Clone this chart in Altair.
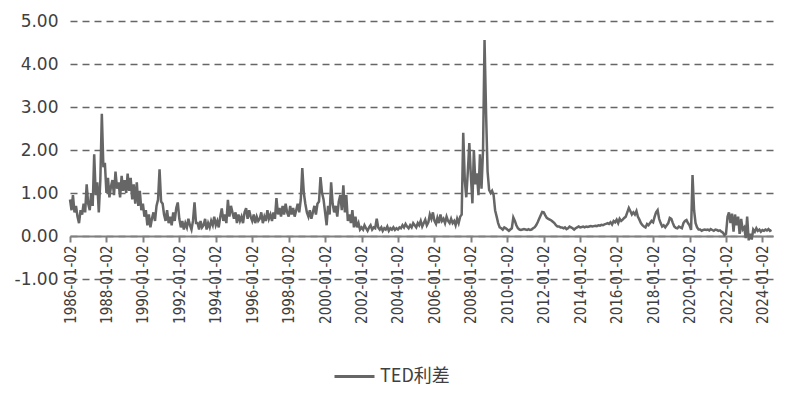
import altair as alt
import pandas as pd

# TED spread, monthly readings (approximate)
ted_1986_1989 = [
    0.85, 0.60, 0.95, 0.55, 0.70, 0.45, 0.30, 0.60, 0.50, 0.75, 0.55, 1.20,
    0.75, 0.60, 1.00, 0.70, 1.90, 0.95, 1.25, 0.55, 1.30, 2.84, 1.60, 1.70,
    1.00, 1.35, 0.90, 1.15, 1.30, 0.95, 1.50, 1.10, 1.25, 0.90, 1.40, 1.05,
    1.30, 1.00, 1.45, 1.05, 1.35, 0.85, 1.20, 0.75, 1.25, 0.70, 1.05, 0.60,
]
ted_1990_1999 = [
    0.75, 0.45, 0.60, 0.25, 0.50, 0.20, 0.40, 0.55, 0.35, 0.70, 0.85, 1.55,
    0.80, 0.75, 0.50, 0.35, 0.60, 0.30, 0.45, 0.25, 0.55, 0.35, 0.65, 0.78,
    0.40, 0.20, 0.35, 0.15, 0.30, 0.20, 0.40, 0.25, 0.15, 0.35, 0.78, 0.30,
    0.30, 0.15, 0.35, 0.20, 0.25, 0.40, 0.15, 0.30, 0.20, 0.35, 0.25, 0.45,
    0.25, 0.35, 0.20, 0.45, 0.64, 0.35, 0.50, 0.30, 0.84, 0.45, 0.70, 0.55,
    0.40, 0.55, 0.30, 0.50, 0.35, 0.45, 0.30, 0.55, 0.65, 0.40, 0.60, 0.45,
    0.35, 0.50, 0.30, 0.45, 0.35, 0.40, 0.55, 0.30, 0.45, 0.35, 0.60, 0.40,
    0.50, 0.35, 0.55, 0.40, 0.88, 0.50, 0.65, 0.45, 0.70, 0.50, 0.75, 0.55,
    0.45, 0.70, 0.50, 0.65, 0.45, 0.60, 0.75, 0.55, 0.85, 1.58, 1.00, 0.75,
    0.55, 0.45, 0.60, 0.40, 0.55, 0.70, 0.50, 0.75, 0.80, 1.37, 1.00, 0.85,
]
ted_2000_2009 = [
    0.55, 0.25, 0.70, 0.50, 1.25, 0.75, 0.55, 0.70, 0.45, 0.80, 0.95, 0.60,
    1.18, 0.55, 0.95, 0.35, 0.50, 0.30, 0.60, 0.20, 0.45, 0.20, 0.30, 0.15,
    0.20, 0.15, 0.25, 0.18, 0.12, 0.20, 0.25, 0.15, 0.20, 0.18, 0.40, 0.20,
    0.15, 0.20, 0.12, 0.18, 0.15, 0.22, 0.12, 0.18, 0.15, 0.20, 0.14, 0.18,
    0.15, 0.20, 0.18, 0.25, 0.20, 0.28, 0.22, 0.18, 0.25, 0.20, 0.30, 0.25,
    0.20, 0.30, 0.25, 0.35, 0.22, 0.30, 0.38, 0.25, 0.32, 0.50, 0.40, 0.55,
    0.35, 0.28, 0.42, 0.30, 0.50, 0.35, 0.40, 0.30, 0.45, 0.35, 0.30, 0.40,
    0.30, 0.35, 0.25, 0.40, 0.30, 0.45, 0.50, 2.40, 1.30, 0.90, 1.50, 2.16,
    1.40, 0.76, 2.00, 1.20, 1.46, 0.95, 1.90, 1.10, 2.00, 4.56, 2.85, 1.50,
    1.07, 1.00, 1.05, 0.95, 0.60, 0.45, 0.30, 0.20, 0.18, 0.15, 0.20, 0.18,
]
ted_2010_2019 = [
    0.15, 0.12, 0.15, 0.18, 0.43, 0.35, 0.25, 0.18, 0.15, 0.14, 0.15, 0.16,
    0.15, 0.14, 0.16, 0.14, 0.15, 0.18, 0.20, 0.25, 0.32, 0.40, 0.48, 0.56,
    0.55, 0.48, 0.42, 0.40, 0.38, 0.36, 0.33, 0.30, 0.25, 0.22, 0.22, 0.20,
    0.20, 0.18, 0.20, 0.16, 0.18, 0.22, 0.20, 0.18, 0.15, 0.18, 0.20, 0.22,
    0.20, 0.21, 0.22, 0.20, 0.22, 0.21, 0.22, 0.23, 0.22, 0.23, 0.24, 0.23,
    0.25, 0.24, 0.26, 0.25, 0.27, 0.28, 0.30, 0.28, 0.32, 0.27, 0.35, 0.32,
    0.38, 0.30, 0.40, 0.35, 0.38, 0.42, 0.45, 0.55, 0.65, 0.58, 0.50, 0.55,
    0.50, 0.58, 0.45, 0.38, 0.30, 0.25, 0.22, 0.20, 0.28, 0.25, 0.30, 0.35,
    0.32, 0.45, 0.55, 0.60, 0.40, 0.30, 0.22, 0.25, 0.20, 0.25, 0.30, 0.42,
    0.40, 0.30, 0.22, 0.19, 0.18, 0.22, 0.20, 0.18, 0.30, 0.35, 0.37, 0.30,
]
ted_2020_2024 = [
    0.25, 0.14, 1.42, 0.60, 0.30, 0.20, 0.15, 0.15, 0.12, 0.14, 0.15, 0.14,
    0.15, 0.13, 0.16, 0.14, 0.12, 0.15, 0.14, 0.12, 0.13, 0.10, 0.08, 0.02,
    0.05, 0.45, 0.55, 0.30, 0.52, 0.10, 0.50, 0.25, 0.45, 0.05, 0.40, 0.15,
    0.20, -0.05, 0.45, -0.10, 0.05, -0.08, 0.15, 0.10, 0.18, 0.12, 0.15, 0.10,
    0.14, 0.12, 0.15, 0.13, 0.16, 0.12, 0.14,
]

values = ted_1986_1989 + ted_1990_1999 + ted_2000_2009 + ted_2010_2019 + ted_2020_2024
dates = pd.date_range("1986-01-01", periods=len(values), freq="MS") + pd.Timedelta(days=1)

tick_years = list(range(1986, 2025, 2))
y_ticks = [-1, 0, 1, 2, 3, 4, 5]
series_name = "TED利差"

df = pd.DataFrame({
    "date": dates.strftime("%Y-%m-%d"),
    "value": values,
    "series": series_name,
})

X_FONT = "DejaVu Sans Condensed, Liberation Sans Narrow, sans-serif"
Y_FONT = "DejaVu Sans, sans-serif"
LEG_FONT = "Noto Sans CJK SC, sans-serif"

chart = alt.Chart(df).mark_line(strokeWidth=2.5, clip=False).encode(
    x=alt.X(
        "date:T",
        scale=alt.Scale(
            type="utc",
            domain=[
                alt.DateTime(year=1986, month=1, date=2, utc=True),
                alt.DateTime(year=2024, month=8, date=1, utc=True),
            ],
            nice=False,
        ),
        axis=alt.Axis(
            values=[alt.DateTime(year=y, month=1, date=2, utc=True) for y in tick_years],
            labelExpr="utcFormat(datum.value, '%Y-%m-%d')",
            labelAngle=270,
            labelAlign="right",
            labelBaseline="middle",
            labelFont=X_FONT,
            labelFontSize=15,
            labelColor="#404040",
            labelPadding=3,
            labelOverlap=False,
            labelFlush=False,
            offset=-43,
            grid=False,
            domainColor="#808080",
            domainWidth=2,
            tickColor="#808080",
            tickWidth=2,
            tickSize=6,
            title=None,
        ),
    ),
    y=alt.Y(
        "value:Q",
        scale=alt.Scale(domain=[-1, 5], nice=False, zero=False),
        axis=alt.Axis(
            values=y_ticks,
            labelExpr="datum.value < 0 ? '-' + format(-datum.value, '.2f') : format(datum.value, '.2f')",
            grid=True,
            gridDash=[7, 5],
            gridColor="#666666",
            gridWidth=1.5,
            domain=False,
            ticks=False,
            labelFont=Y_FONT,
            labelFontSize=17,
            labelColor="#404040",
            labelPadding=12,
            title=None,
        ),
    ),
    color=alt.Color(
        "series:N",
        scale=alt.Scale(domain=[series_name], range=["#666666"]),
        legend=alt.Legend(
            orient="none",
            legendX=263,
            legendY=334,
            padding=0,
            title=None,
            symbolType="stroke",
            symbolSize=1600,
            symbolStrokeWidth=3,
            labelFontSize=18,
            labelColor="#404040",
            labelFont=LEG_FONT,
            labelOffset=4,
        ),
    ),
).properties(
    width=703,
    height=258,
    autosize=alt.AutoSizeParams(type="none"),
    padding={"left": 62, "top": 13, "right": 5, "bottom": 110},
).configure_view(
    stroke=None,
)

chart.save("out.html", embed_options={"renderer": "svg", "actions": False})
